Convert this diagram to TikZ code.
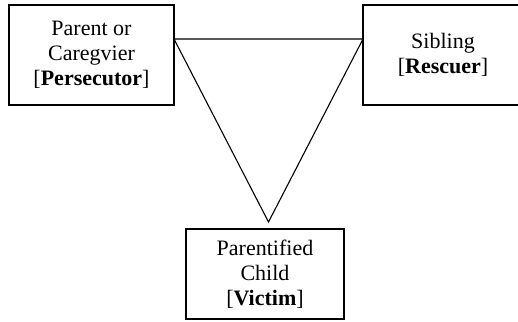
\documentclass[tikz,border=0pt]{standalone}
\usepackage{fontspec}
\setmainfont{Liberation Serif}
\usepackage{tikz}

\begin{document}
\begin{tikzpicture}[x=0.5pt,y=-0.5pt]
			\tikzstyle{role}=[rectangle,draw,line width=0.6pt,align=center,inner sep=0pt,font=\fontsize{11}{12.5}\selectfont]
			\tikzstyle{edge}=[line width=0.55pt]
			\useasboundingbox (0,0) rectangle (518,321);
			
			\node[role,minimum width=82.5pt,minimum height=50pt] (persecutor) at (91.5,55) {Parent or\\Caregvier\\{}[\textbf{Persecutor}]};
			\node[role,minimum width=80pt,minimum height=50pt] (rescuer) at (443,55) {Sibling\\{}[\textbf{Rescuer}]};
			\node[role,minimum width=79pt,minimum height=45pt] (victim) at (265,274) {Parentified\\Child\\{}[\textbf{Victim}]};
			
			\coordinate (p) at (174,39);
			\coordinate (r) at (363,39);
			\coordinate (v) at (268.5,222);
			\draw[edge] (p) -- (r) -- (v) -- cycle;
\end{tikzpicture}
\end{document}
